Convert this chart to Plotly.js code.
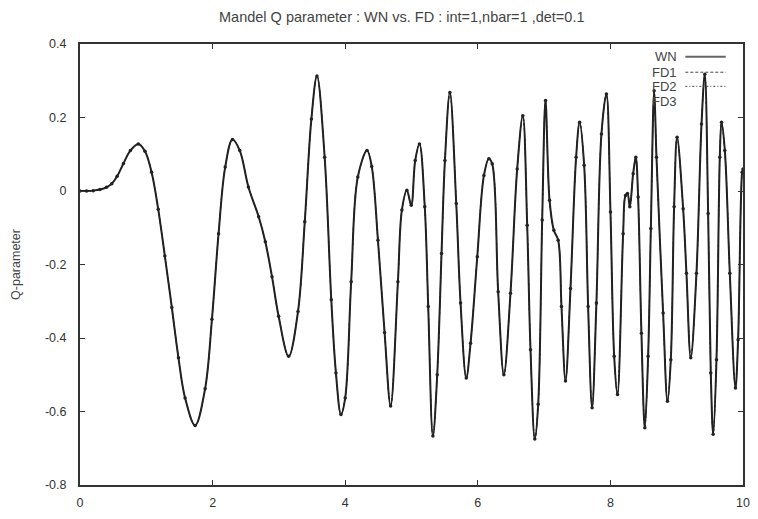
<!DOCTYPE html>
<html>
<head>
<meta charset="utf-8">
<script src="https://cdn.plot.ly/plotly-3.0.1.min.js"></script>
<style>html,body{margin:0;padding:0;background:#fff;}#chart{width:758px;height:519px;}</style>
</head>
<body>
<div id="chart"></div>
<script>
// Time axis
var tValues = [0, 0.1, 0.2, 0.3, 0.4, 0.48, 0.56, 0.655, 0.76, 0.88, 0.98, 1.08, 1.18, 1.28, 1.385, 1.485, 1.585, 1.736, 1.887, 1.99, 2.09, 2.19, 2.30, 2.41, 2.54,
  2.695, 2.795, 2.896, 2.996, 3.147, 3.288, 3.39, 3.49, 3.574, 3.69, 3.79, 3.86, 3.936, 4.0, 4.09, 4.19, 4.33, 4.40, 4.494, 4.594, 4.685, 4.795, 4.855, 4.93, 4.996, 5.056,
  5.12, 5.20, 5.252, 5.323, 5.388, 5.453, 5.504, 5.579, 5.675, 5.74, 5.826, 5.891, 5.992, 6.092, 6.167, 6.217, 6.307, 6.393, 6.493, 6.594, 6.679, 6.745, 6.795, 6.86, 6.911, 6.971, 7.021, 7.082, 7.147, 7.212, 7.262, 7.323, 7.398, 7.483, 7.536,
  7.604, 7.664, 7.724, 7.789, 7.865, 7.94, 8.001, 8.057, 8.107, 8.192, 8.228, 8.258, 8.293, 8.343, 8.383, 8.418, 8.468, 8.519, 8.569, 8.61, 8.66, 8.695, 8.795, 8.861, 8.911, 8.961, 9.006, 9.097, 9.147, 9.212, 9.298, 9.374, 9.424, 9.474, 9.514, 9.55, 9.6, 9.65, 9.676, 9.726, 9.801, 9.886, 9.926, 9.987, 10.0];

var qWN = [0, 0, 0.001, 0.004, 0.01, 0.02, 0.04, 0.075, 0.11, 0.128, 0.108, 0.051, -0.05, -0.177, -0.317, -0.454, -0.563, -0.638, -0.538, -0.349, -0.116, 0.065, 0.14, 0.11, 0.011,
  -0.07, -0.138, -0.233, -0.341, -0.45, -0.328, -0.084, 0.196, 0.313, 0.092, -0.296, -0.495, -0.608, -0.563, -0.247, 0.038, 0.11, 0.067, -0.134, -0.385, -0.585, -0.247, -0.052, 0.002, -0.039, 0.083,
  0.128, -0.043, -0.314, -0.667, -0.5, -0.17, 0.083, 0.268, -0.034, -0.305, -0.509, -0.414, -0.179, 0.042, 0.088, 0.074, -0.274, -0.5, -0.278, 0.06, 0.205, -0.093, -0.432, -0.675, -0.58, -0.079, 0.246, -0.025, -0.107, -0.134, -0.314, -0.517, -0.265, 0.092, 0.187,
  0.07, -0.314, -0.59, -0.305, 0.155, 0.264, -0.057, -0.45, -0.554, -0.116, -0.012, -0.007, -0.043, 0.047, 0.092, -0.016, -0.387, -0.644, -0.45, -0.102, 0.273, 0.092, -0.332, -0.572, -0.459, -0.043, 0.146, -0.048, -0.224, -0.454, -0.224, 0.182, 0.318, -0.061, -0.495, -0.662, -0.459, 0.092, 0.187, 0.11, -0.224, -0.536, -0.405, 0.051, 0.06];

// The FD curves lie on top of the WN curve in the picture
var qFD1 = qWN.slice();
var qFD2 = qWN.slice();
var qFD3 = qWN.slice();

var seriesNames = ["WN", "FD1", "FD2", "FD3"];
var xTickVals = [0, 2, 4, 6, 8, 10];
var xTickText = ["0", "2", "4", "6", "8", "10"];
var yTickVals = [0.4, 0.2, 0, -0.2, -0.4, -0.6, -0.8];
var yTickText = ["0.4", "0.2", "0", "-0.2", "-0.4", "-0.6", "-0.8"];

var ink = "#222";
var fontFam = "Liberation Sans, Arial, sans-serif";

var traces = [
  {x: tValues, y: qWN, name: seriesNames[0], mode: "lines", line: {color: ink, width: 2, shape: "spline", smoothing: 1}},
  {x: tValues, y: qFD1, name: seriesNames[1], mode: "lines", line: {color: ink, width: 1, dash: "3px,2px", shape: "spline", smoothing: 1}},
  {x: tValues, y: qFD2, name: seriesNames[2], mode: "lines", line: {color: ink, width: 1, dash: "3px,2px,1px,2px", shape: "spline", smoothing: 1}},
  {x: tValues, y: qFD3, name: seriesNames[3], mode: "markers", marker: {color: ink, size: 3.5}}
];

// gnuplot-style key: label on the left, sample on the right
var keyY = [0.971, 0.936, 0.904, 0.870];
var keyDash = ["solid", "3px,2px", "2px,2px,1px,2px", null];
var annotations = [];
var shapes = [];
for (var i = 0; i < seriesNames.length; i++) {
  annotations.push({xref: "paper", yref: "paper", x: 0.904, y: keyY[i], xanchor: "right", yanchor: "middle",
    text: seriesNames[i], showarrow: false, font: {family: fontFam, size: 13, color: "#444"}});
  if (keyDash[i]) {
    shapes.push({type: "line", xref: "paper", yref: "paper", x0: 0.913, x1: 0.974, y0: keyY[i], y1: keyY[i],
      line: {color: i === 0 ? "#666" : "#444", width: i === 0 ? 2 : 1, dash: keyDash[i]}});
  }
}

var layout = {
  width: 758, height: 519,
  margin: {l: 80, r: 15, t: 44, b: 34},
  paper_bgcolor: "#fff", plot_bgcolor: "#fff",
  showlegend: false,
  title: {text: "Mandel Q parameter : WN vs. FD : int=1,nbar=1 ,det=0.1", x: 0.53, xanchor: "center", y: 0.967, yanchor: "middle",
    font: {family: fontFam, size: 14.5, color: "#444"}},
  xaxis: {range: [0, 10], tickvals: xTickVals, ticktext: xTickText, ticks: "inside", ticklen: 5, tickcolor: "#333", tickwidth: 1,
    showline: true, linecolor: "#333", linewidth: 2, mirror: "allticks", showgrid: false, zeroline: false,
    ticklabelstandoff: 5,
    tickfont: {family: fontFam, size: 12.5, color: "#333"}},
  yaxis: {range: [-0.8, 0.4], tickvals: yTickVals, ticktext: yTickText, ticks: "inside", ticklen: 5, tickcolor: "#333", tickwidth: 1,
    showline: true, linecolor: "#333", linewidth: 2, mirror: "allticks", showgrid: false, zeroline: false,
    ticklabelstandoff: 9,
    tickfont: {family: fontFam, size: 12.5, color: "#333"},
    title: {text: "Q-parameter", standoff: 22, font: {family: fontFam, size: 12.5, color: "#444"}}},
  annotations: annotations,
  shapes: shapes
};

Plotly.newPlot("chart", traces, layout, {displayModeBar: false, staticPlot: true});
</script>
</body>
</html>
